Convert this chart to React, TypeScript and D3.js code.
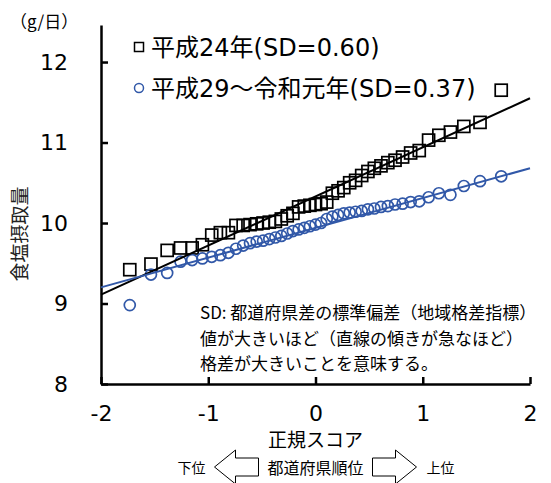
import React, { useEffect, useRef } from "react";
import * as d3 from "d3";

// normal scores of prefecture ranks 2..46 (ranks 1 and 47 fall outside the -2..2 axis)
const normalScores = [
  -1.7317, -1.5341, -1.383, -1.2582, -1.1503, -1.0545, -0.9674, -0.8871, -0.8122,
  -0.7416, -0.6745, -0.6106, -0.5485, -0.4888, -0.4307, -0.3741, -0.3186, -0.2637,
  -0.2104, -0.1573, -0.1046, -0.0522, 0, 0.0522, 0.1046, 0.1573, 0.2104, 0.2637,
  0.3186, 0.3741, 0.4307, 0.4888, 0.5485, 0.6106, 0.6745, 0.7416, 0.8122, 0.8871,
  0.9674, 1.0545, 1.1503, 1.2582, 1.383, 1.5341, 1.7317,
];

// 平成24年
const h24Values = [
  9.42, 9.49, 9.66, 9.69, 9.69, 9.73, 9.85, 9.88, 9.88, 9.97, 9.97, 9.98, 9.99,
  10.0, 10.01, 10.02, 10.05, 10.09, 10.12, 10.2, 10.21, 10.22, 10.23, 10.24, 10.26,
  10.37, 10.4, 10.44, 10.5, 10.53, 10.59, 10.64, 10.68, 10.71, 10.75, 10.78, 10.82,
  10.87, 10.9, 11.03, 11.09, 11.13, 11.2, 11.25, 11.65,
];

// 平成29～令和元年
const r1Values = [
  8.98, 9.36, 9.38, 9.52, 9.54, 9.56, 9.58, 9.6, 9.63, 9.68, 9.72, 9.75, 9.77,
  9.78, 9.8, 9.82, 9.84, 9.87, 9.9, 9.92, 9.94, 9.96, 9.98, 10.0, 10.05, 10.08,
  10.1, 10.12, 10.13, 10.14, 10.15, 10.17, 10.18, 10.2, 10.21, 10.23, 10.24, 10.26,
  10.27, 10.32, 10.37, 10.35, 10.46, 10.52, 10.58,
];

const seriesLabels = ["平成24年(SD=0.60)", "平成29～令和元年(SD=0.37)"];
const fitMeans = [10.33, 9.94];
const fitSDs = [0.61, 0.37];

const xTicks = [-2, -1, 0, 1, 2];
const yTicks = [8, 9, 10, 11, 12];

const noteLines = [
  "SD: 都道府県差の標準偏差（地域格差指標）",
  "値が大きいほど（直線の傾きが急なほど）",
  "格差が大きいことを意味する。",
];

const BLUE = "#3158a8";
const FONT_NUM = "'DejaVu Sans', 'Noto Sans CJK JP', sans-serif";
const FONT_JP = "'Noto Sans CJK JP', sans-serif";

const App: React.FC = () => {
  const ref = useRef<SVGSVGElement | null>(null);

  useEffect(() => {
    const svg = d3.select(ref.current);
    svg.selectAll("*").remove();

    const x = d3.scaleLinear().domain([-2, 2]).range([101, 530]);
    const y = d3.scaleLinear().domain([8, 12.46]).range([384, 25]);

    // axes
    const yAxis = svg
      .append("g")
      .attr("transform", `translate(${x(-2)},0)`)
      .call(
        d3
          .axisLeft(y)
          .tickValues(yTicks)
          .tickSize(-7)
          .tickSizeOuter(0)
          .tickPadding(33)
          .tickFormat((d) => String(d))
      );
    const xAxis = svg
      .append("g")
      .attr("transform", `translate(0,${y(8)})`)
      .call(
        d3
          .axisBottom(x)
          .tickValues(xTicks)
          .tickSize(-7)
          .tickSizeOuter(0)
          .tickPadding(21)
          .tickFormat((d) => String(d))
      );
    [yAxis, xAxis].forEach((g) => {
      g.selectAll("path, line").attr("stroke", "#000").attr("stroke-width", 2.5);
      g.selectAll("text")
        .attr("fill", "#000")
        .style("font-family", FONT_NUM)
        .style("font-size", "22px");
    });

    // markers
    svg
      .append("g")
      .selectAll("rect")
      .data(h24Values)
      .enter()
      .append("rect")
      .attr("x", (d, i) => x(normalScores[i]) - 6)
      .attr("y", (d) => y(d) - 6)
      .attr("width", 12)
      .attr("height", 12)
      .attr("fill", "none")
      .attr("stroke", "#000")
      .attr("stroke-width", 1.7);

    svg
      .append("g")
      .selectAll("circle")
      .data(r1Values)
      .enter()
      .append("circle")
      .attr("cx", (d, i) => x(normalScores[i]))
      .attr("cy", (d) => y(d))
      .attr("r", 5.5)
      .attr("fill", "none")
      .attr("stroke", BLUE)
      .attr("stroke-width", 1.7);

    // fitted lines (mean + SD * normal score)
    const colors = ["#000", BLUE];
    fitMeans.forEach((m, i) => {
      const line = d3
        .line<number>()
        .x((d) => x(d))
        .y((d) => y(m + fitSDs[i] * d));
      svg
        .append("path")
        .datum(xTicks.filter((t) => t === -2 || t === 2))
        .attr("d", line)
        .attr("fill", "none")
        .attr("stroke", colors[i])
        .attr("stroke-width", 2);
    });

    // legend
    const legend = svg.append("g");
    legend
      .append("rect")
      .attr("x", 134.5)
      .attr("y", 42.5)
      .attr("width", 9)
      .attr("height", 9)
      .attr("fill", "none")
      .attr("stroke", "#000")
      .attr("stroke-width", 1.5);
    legend
      .append("circle")
      .attr("cx", 139)
      .attr("cy", 88)
      .attr("r", 4.5)
      .attr("fill", "none")
      .attr("stroke", BLUE)
      .attr("stroke-width", 1.5);
    legend
      .selectAll("text")
      .data(seriesLabels)
      .enter()
      .append("text")
      .attr("x", 151)
      .attr("y", (d, i) => 47 + i * 41)
      .attr("dy", "0.36em")
      .attr("fill", "#000")
      .style("font-family", FONT_NUM)
      .style("font-size", "24px")
      .text((d) => d);

    // note
    svg
      .append("g")
      .selectAll("text")
      .data(noteLines)
      .enter()
      .append("text")
      .attr("x", 200)
      .attr("y", (d, i) => 319 + i * 25.5)
      .attr("fill", "#000")
      .style("font-family", FONT_JP)
      .style("font-size", "17px")
      .text((d) => d);

    // axis titles
    svg
      .append("text")
      .attr("x", 10)
      .attr("y", 28)
      .attr("fill", "#000")
      .style("font-family", FONT_JP)
      .style("font-size", "17px")
      .text("（g/日）");
    svg
      .append("text")
      .attr("transform", "translate(27,234) rotate(-90)")
      .attr("text-anchor", "middle")
      .attr("fill", "#222")
      .style("font-family", FONT_JP)
      .style("font-size", "19px")
      .text("食塩摂取量");
    svg
      .append("text")
      .attr("x", x(0))
      .attr("y", 447)
      .attr("text-anchor", "middle")
      .attr("fill", "#000")
      .style("font-family", FONT_JP)
      .style("font-size", "19px")
      .text("正規スコア");

    // rank direction arrows
    const cx = x(0);
    const arrow = (dir: number) =>
      [
        [cx - dir * 101, 467],
        [cx - dir * 80, 450],
        [cx - dir * 80, 458],
        [cx - dir * 57, 458],
        [cx - dir * 57, 476],
        [cx - dir * 80, 476],
        [cx - dir * 80, 484],
      ]
        .map((p) => p.join(","))
        .join(" ");
    [1, -1].forEach((dir) => {
      svg
        .append("polygon")
        .attr("points", arrow(dir))
        .attr("fill", "#fff")
        .attr("stroke", "#000")
        .attr("stroke-width", 1);
    });
    const bottom = [
      { t: "下位", x: cx - 124, s: 14 },
      { t: "都道府県順位", x: cx, s: 16 },
      { t: "上位", x: cx + 125, s: 14 },
    ];
    svg
      .append("g")
      .selectAll("text")
      .data(bottom)
      .enter()
      .append("text")
      .attr("x", (d) => d.x)
      .attr("y", 468)
      .attr("dy", "0.35em")
      .attr("text-anchor", "middle")
      .attr("fill", "#000")
      .style("font-family", FONT_JP)
      .style("font-size", (d) => `${d.s}px`)
      .text((d) => d.t);
  }, []);

  return (
    <svg
      ref={ref}
      width={551}
      height={483}
      style={{ position: "absolute", left: 0, top: 0, background: "#fff" }}
    ></svg>
  );
};

export default App;
